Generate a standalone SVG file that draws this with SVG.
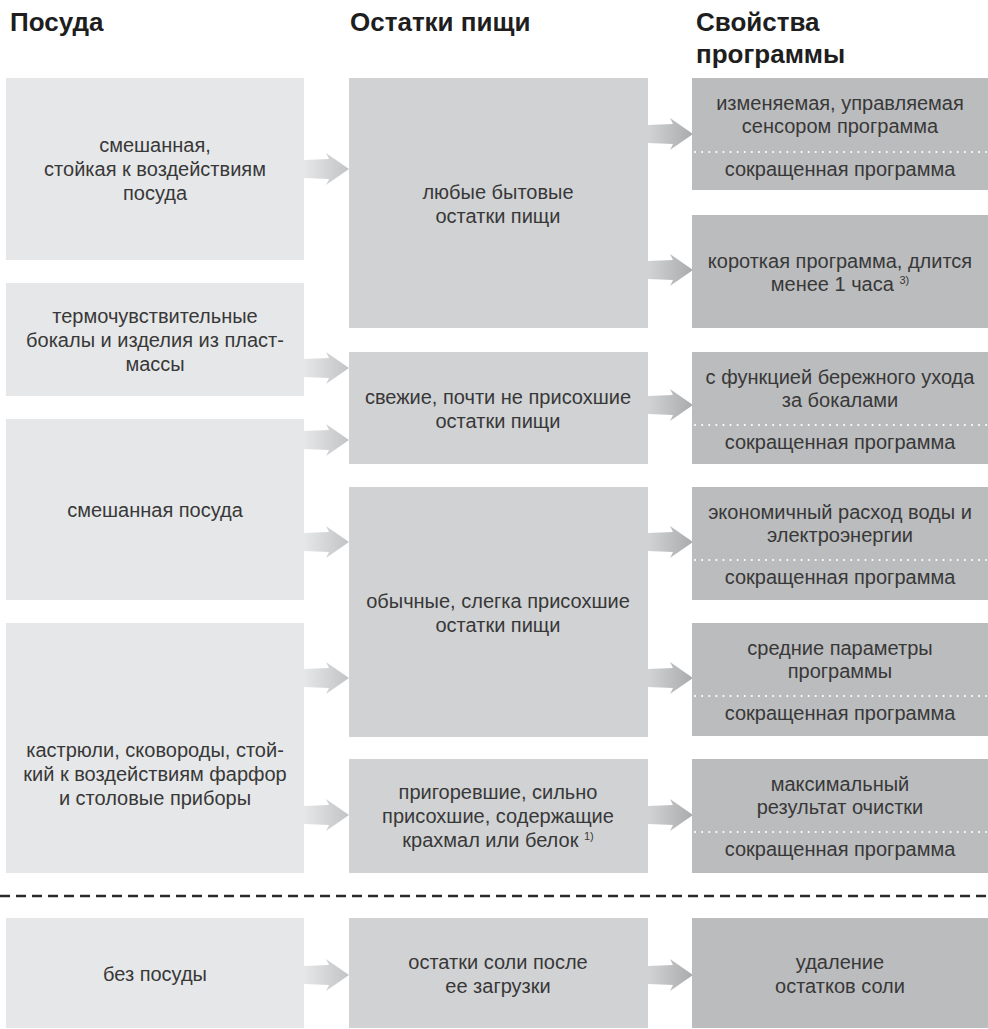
<svg xmlns="http://www.w3.org/2000/svg" xmlns:xlink="http://www.w3.org/1999/xlink" width="988" height="1029" viewBox="0 0 988 1029">
<style>
.h{font-family:"Liberation Sans",Arial,sans-serif;font-weight:bold;font-size:26px;fill:#1e1e1e}
.t{font-family:"Liberation Sans",Arial,sans-serif;font-size:20px;fill:#383838;text-anchor:middle}
.sup{font-size:11px}
.c1{fill:#e6e7e8}
.c2{fill:#d1d2d4}
.c3{fill:#bbbcbe}
.dot{stroke:#fff;stroke-width:2;stroke-dasharray:0.1 7;stroke-linecap:round;fill:none}
</style>
<defs>
<linearGradient id="g1" x1="0" y1="0" x2="1" y2="0"><stop offset="0" stop-color="#e6e7e8"/><stop offset="1" stop-color="#c2c3c5"/></linearGradient>
<linearGradient id="g2" x1="0" y1="0" x2="1" y2="0"><stop offset="0" stop-color="#d2d3d5"/><stop offset="1" stop-color="#a9aaac"/></linearGradient>
<path id="arr" d="M0,-9 L25,-10 L22,-16 L45,0 L22,16 L25,10 L0,9 Z"/>
</defs>
<g id="headers">
<text class="h" x="10" y="31">Посуда</text>
<text class="h" x="350" y="31">Остатки пищи</text>
<text class="h" x="696" y="31">Свойства</text>
<text class="h" x="696" y="63">программы</text>
</g>
<g id="connectors">
<use xlink:href="#arr" href="#arr" fill="url(#g1)" x="304" y="169"/>
<use xlink:href="#arr" href="#arr" fill="url(#g1)" x="304" y="368"/>
<use xlink:href="#arr" href="#arr" fill="url(#g1)" x="304" y="440"/>
<use xlink:href="#arr" href="#arr" fill="url(#g1)" x="304" y="542"/>
<use xlink:href="#arr" href="#arr" fill="url(#g1)" x="304" y="678"/>
<use xlink:href="#arr" href="#arr" fill="url(#g1)" x="304" y="815"/>
<use xlink:href="#arr" href="#arr" fill="url(#g1)" x="304" y="975"/>
<use xlink:href="#arr" href="#arr" fill="url(#g2)" x="648" y="134"/>
<use xlink:href="#arr" href="#arr" fill="url(#g2)" x="648" y="270"/>
<use xlink:href="#arr" href="#arr" fill="url(#g2)" x="648" y="405"/>
<use xlink:href="#arr" href="#arr" fill="url(#g2)" x="648" y="542"/>
<use xlink:href="#arr" href="#arr" fill="url(#g2)" x="648" y="678"/>
<use xlink:href="#arr" href="#arr" fill="url(#g2)" x="648" y="815"/>
<use xlink:href="#arr" href="#arr" fill="url(#g2)" x="648" y="975"/>
</g>
<g id="p1"><rect class="c1" x="6" y="78" width="298" height="182"/>
<text class="t" x="155" y="152">смешанная,</text><text class="t" x="155" y="176">стойкая к воздействиям</text><text class="t" x="155" y="200">посуда</text></g>
<g id="p2"><rect class="c1" x="6" y="283" width="298" height="113"/>
<text class="t" x="155" y="323">термочувствительные</text><text class="t" x="155" y="347">бокалы и изделия из пласт-</text><text class="t" x="155" y="371">массы</text></g>
<g id="p3"><rect class="c1" x="6" y="419" width="298" height="181"/>
<text class="t" x="155" y="517">смешанная посуда</text></g>
<g id="p4"><rect class="c1" x="6" y="623" width="298" height="250"/>
<text class="t" x="155" y="757">кастрюли, сковороды, стой-</text><text class="t" x="155" y="781">кий к воздействиям фарфор</text><text class="t" x="155" y="805">и столовые приборы</text></g>
<g id="p5"><rect class="c1" x="6" y="918" width="298" height="110"/>
<text class="t" x="155" y="981">без посуды</text></g>

<g id="r1"><rect class="c2" x="349" y="78" width="299" height="250"/>
<text class="t" x="498" y="199">любые бытовые</text><text class="t" x="498" y="223">остатки пищи</text></g>
<g id="r2"><rect class="c2" x="349" y="352" width="299" height="112"/>
<text class="t" x="498" y="404">свежие, почти не присохшие</text><text class="t" x="498" y="428">остатки пищи</text></g>
<g id="r3"><rect class="c2" x="349" y="487" width="299" height="250"/>
<text class="t" x="498" y="608">обычные, слегка присохшие</text><text class="t" x="498" y="632">остатки пищи</text></g>
<g id="r4"><rect class="c2" x="349" y="759" width="299" height="114"/>
<text class="t" x="498" y="799">пригоревшие, сильно</text><text class="t" x="498" y="823">присохшие, содержащие</text><text class="t" x="498" y="847">крахмал или белок <tspan class="sup" dy="-7">1)</tspan></text></g>
<g id="r5"><rect class="c2" x="349" y="918" width="299" height="110"/>
<text class="t" x="498" y="969">остатки соли после</text><text class="t" x="498" y="993">ее загрузки</text></g>

<g id="s1"><rect class="c3" x="692" y="78" width="296" height="112"/>
<text class="t" x="840" y="110">изменяемая, управляемая</text><text class="t" x="840" y="133">сенсором программа</text>
<line class="dot" x1="695" y1="152" x2="988" y2="152"/><text class="t" x="840" y="176">сокращенная программа</text></g>
<g id="s2"><rect class="c3" x="692" y="215" width="296" height="113"/>
<text class="t" x="840" y="268">короткая программа, длится</text><text class="t" x="840" y="291">менее 1 часа <tspan class="sup" dy="-7">3)</tspan></text></g>
<g id="s3"><rect class="c3" x="692" y="352" width="296" height="112"/>
<text class="t" x="840" y="384">с функцией бережного ухода</text><text class="t" x="840" y="407">за бокалами</text>
<line class="dot" x1="695" y1="425" x2="988" y2="425"/><text class="t" x="840" y="449">сокращенная программа</text></g>
<g id="s4"><rect class="c3" x="692" y="487" width="296" height="113"/>
<text class="t" x="840" y="519">экономичный расход воды и</text><text class="t" x="840" y="542">электроэнергии</text>
<line class="dot" x1="695" y1="560" x2="988" y2="560"/><text class="t" x="840" y="584">сокращенная программа</text></g>
<g id="s5"><rect class="c3" x="692" y="623" width="296" height="113"/>
<text class="t" x="840" y="655">средние параметры</text><text class="t" x="840" y="678">программы</text>
<line class="dot" x1="695" y1="696" x2="988" y2="696"/><text class="t" x="840" y="720">сокращенная программа</text></g>
<g id="s6"><rect class="c3" x="692" y="759" width="296" height="114"/>
<text class="t" x="840" y="791">максимальный</text><text class="t" x="840" y="814">результат очистки</text>
<line class="dot" x1="695" y1="832" x2="988" y2="832"/><text class="t" x="840" y="856">сокращенная программа</text></g>
<g id="s7"><rect class="c3" x="692" y="918" width="296" height="110"/>
<text class="t" x="840" y="969">удаление</text><text class="t" x="840" y="993">остатков соли</text></g>

<line id="separator" x1="0" y1="896" x2="988" y2="896" stroke="#2a2a2a" stroke-width="2.5" stroke-dasharray="10 6"/>
</svg>
